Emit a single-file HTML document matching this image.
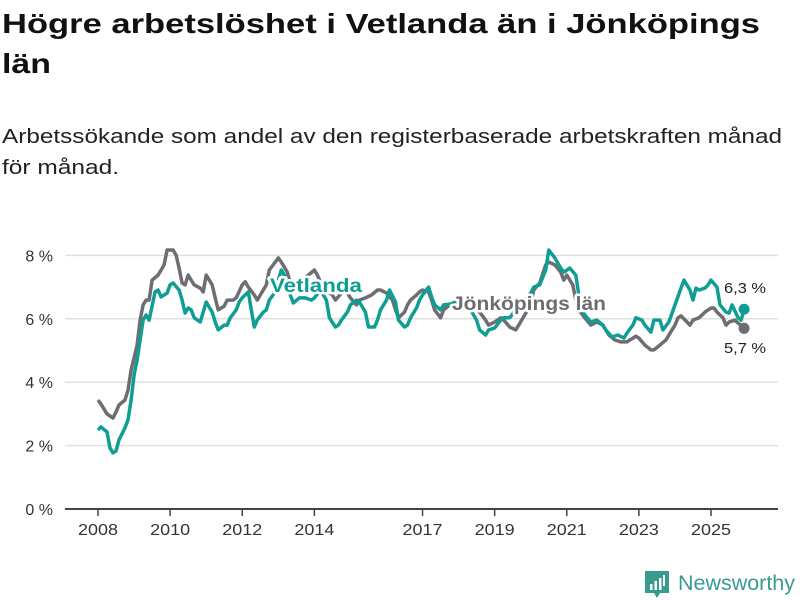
<!DOCTYPE html>
<html><head><meta charset="utf-8">
<style>
body{margin:0;background:#fff;width:800px;height:600px;overflow:hidden;font-family:"Liberation Sans","DejaVu Sans",sans-serif;}
svg{position:absolute;left:0;top:0;}
</style></head><body>
<svg id="chart" width="800" height="600" font-family="Liberation Sans, DejaVu Sans, sans-serif">
<g>
<text x="2" y="33" font-size="28" font-weight="bold" fill="#111" textLength="758" lengthAdjust="spacingAndGlyphs">Högre arbetslöshet i Vetlanda än i Jönköpings</text>
<text x="2" y="73" font-size="28" font-weight="bold" fill="#111" textLength="49" lengthAdjust="spacingAndGlyphs">län</text>
</g>
<g>
<text x="2" y="143" font-size="20" fill="#222" textLength="780" lengthAdjust="spacingAndGlyphs">Arbetssökande som andel av den registerbaserade arbetskraften månad</text>
<text x="2" y="174" font-size="20" fill="#222" textLength="117" lengthAdjust="spacingAndGlyphs">för månad.</text>
</g>
</svg>
<script>
const yTicks=[0,2,4,6,8];
const yTickLabels=["0 %","2 %","4 %","6 %","8 %"];
const xTickYears=[2008,2010,2012,2014,2017,2019,2021,2023,2025];
const lanMonths=[0,1,3,5,6,7,9,10,11,13,14,15,16,17,18,20,21,22,23,25,26,27,28,29,30,31,32,34,35,36,38,39,40,42,43,45,46,48,49,50,52,53,54,56,57,59,60,61,63,64,65,67,69,70,72,73,74,76,78,79,81,82,84,86,87,89,91,93,94,96,98,99,100,102,103,104,106,107,108,110,111,112,114,115,117,120,124,127,129,130,132,134,135,137,139,140,142,144,145,147,149,150,152,154,155,156,158,159,160,162,164,166,168,170,172,174,176,178,179,180,182,184,185,187,189,190,192,193,194,196,197,198,200,201,202,204,205,206,208,209,210,212,213,214,215];
const lanValues=[3.44,3.31,3.0,2.87,3.06,3.28,3.44,3.75,4.38,5.17,5.96,6.44,6.59,6.59,7.22,7.38,7.54,7.70,8.17,8.17,8.01,7.6,7.13,7.07,7.38,7.22,7.07,6.97,6.85,7.38,7.07,6.66,6.28,6.4,6.59,6.59,6.66,7.07,7.17,7.0,6.75,6.59,6.75,7.07,7.54,7.79,7.92,7.79,7.47,7.13,6.91,7.07,7.3,7.38,7.54,7.38,7.16,6.91,6.75,6.59,6.81,6.97,6.66,6.44,6.59,6.66,6.75,6.91,6.91,6.81,6.59,6.28,6.03,6.21,6.44,6.59,6.75,6.85,6.91,6.85,6.59,6.28,6.03,6.28,6.44,6.59,6.44,6.21,5.96,5.80,5.90,6.03,5.96,5.74,5.65,5.80,6.12,6.44,6.91,7.13,7.70,7.79,7.70,7.47,7.22,7.38,7.07,6.59,6.28,6.03,5.80,5.90,5.80,5.49,5.33,5.27,5.27,5.39,5.45,5.39,5.17,5.02,5.02,5.17,5.33,5.49,5.80,6.03,6.09,5.90,5.80,5.96,6.03,6.12,6.21,6.34,6.34,6.21,6.03,5.80,5.90,5.96,5.86,5.80,5.7];
const vetMonths=[0,1,3,4,5,6,7,9,10,11,12,13,15,16,17,19,20,21,23,24,25,27,28,29,30,31,32,34,35,36,38,39,40,42,43,44,46,47,48,50,51,52,53,55,56,57,59,60,61,63,64,65,67,69,71,72,74,76,77,79,80,81,83,84,86,87,89,90,92,93,94,96,97,99,100,102,103,104,106,107,108,110,111,112,114,115,120,124,126,127,129,130,132,134,135,137,139,140,142,144,145,147,149,150,152,154,155,157,159,160,162,164,166,168,169,171,173,175,176,178,179,181,182,184,185,187,188,190,192,194,195,197,198,199,200,202,203,204,206,207,209,210,211,213,214,215];
const vetValues=[2.49,2.59,2.43,1.92,1.77,1.83,2.18,2.56,2.81,3.44,4.23,4.70,5.96,6.12,5.96,6.85,6.91,6.69,6.81,7.07,7.13,6.91,6.59,6.18,6.34,6.28,6.03,5.90,6.21,6.53,6.21,5.90,5.65,5.80,5.80,6.03,6.28,6.53,6.66,6.85,6.28,5.74,5.96,6.21,6.28,6.59,6.85,7.22,7.54,7.22,6.75,6.5,6.66,6.66,6.59,6.66,6.91,6.59,6.03,5.74,5.80,5.96,6.21,6.44,6.59,6.53,6.21,5.74,5.74,5.96,6.28,6.59,6.91,6.53,5.96,5.74,5.80,6.03,6.34,6.59,6.75,7.0,6.69,6.44,6.28,6.44,6.5,6.28,5.96,5.65,5.49,5.65,5.71,5.96,6.03,6.03,6.28,6.44,6.59,6.81,7.0,7.07,7.54,8.17,7.92,7.60,7.47,7.60,7.38,6.75,6.12,5.90,5.96,5.80,5.65,5.43,5.49,5.39,5.55,5.80,6.03,5.96,5.80,5.58,5.96,5.96,5.65,5.90,6.44,6.97,7.22,6.91,6.59,6.97,6.91,6.97,7.07,7.22,7.0,6.44,6.21,6.18,6.44,6.03,5.96,6.3];

const NS='http://www.w3.org/2000/svg';
const svg=document.getElementById('chart');
const x0=98, pxPerYear=36.06, yBase=509, pxPerPct=31.7;
function xScale(year){return x0+(year-2008)*pxPerYear;}
function xMonth(m){return xScale(2008+m/12);}
function yScale(v){return yBase-v*pxPerPct;}
function mk(tag,attrs){const e=document.createElementNS(NS,tag);for(const k in attrs)e.setAttribute(k,attrs[k]);svg.appendChild(e);return e;}

yTicks.forEach((v,i)=>{
  if(v>0){
    const g=mk('line',{x1:65,x2:778,y1:yScale(v),y2:yScale(v),stroke:'#e0e0e0','stroke-width':1.5});
    
    
  }
  const t=mk('text',{x:53,y:yScale(v)+6,'text-anchor':'end','font-size':16,fill:'#333'});
  t.textContent=yTickLabels[i];
  
  
});
const ax=mk('line',{x1:65,x2:778,y1:yBase,y2:yBase,stroke:'#444','stroke-width':2});


xTickYears.forEach(yr=>{
  const tk=mk('line',{x1:xScale(yr),x2:xScale(yr),y1:yBase,y2:yBase+7,stroke:'#444','stroke-width':1.5});
  
  
  const t=mk('text',{x:xScale(yr)-20,y:535,'font-size':16,fill:'#333',textLength:40,lengthAdjust:'spacingAndGlyphs'});
  t.textContent=yr;
  
  
});
function series(months,vals,color,name){
  const d=months.map((m,i)=>(i?'L':'M')+xMonth(m).toFixed(1)+','+yScale(vals[i]).toFixed(1)).join('');
  const p=mk('path',{d:d,fill:'none',stroke:color,'stroke-width':3.5,'stroke-linejoin':'round'});
  
  
  const n=months.length-1;
  const c=mk('circle',{cx:xMonth(months[n]),cy:yScale(vals[n]),r:5.5,fill:color});
  
  
  return [xMonth(months[n]),yScale(vals[n]),vals[n]];
}
const lanEnd=series(lanMonths,lanValues,'#6e6d72','jonkopings-lan');
const vetEnd=series(vetMonths,vetValues,'#0e9e94','vetlanda');
function label(txt,x,y,color,name,bold,size,len){
  const t=mk('text',{x:x,y:y,'font-size':size,'font-weight':bold?'bold':'normal',fill:color,stroke:'#fff','stroke-width':bold?5:4,'paint-order':'stroke','stroke-linejoin':'round',textLength:len,lengthAdjust:'spacingAndGlyphs'});
  t.textContent=txt;
  
  
}
label('Vetlanda',270,292,'#0e9e94','vetlanda-series-label',true,19,92);
label('Jönköpings län',452,310,'#6e6d72','jonkopings-lan-series-label',true,19,154);
label(vetEnd[2].toFixed(1).replace('.',',')+' %',724,293,'#222','vetlanda-end-value',false,15,42);
label(lanEnd[2].toFixed(1).replace('.',',')+' %',724,353,'#222','jonkopings-lan-end-value',false,15,42);
</script>
<div style="position:absolute;left:645px;top:571px;">
<svg width="26" height="28" style="position:absolute;left:0;top:0"><path d="M0 0H24V22H15L12 27L9 22H0Z" fill="#3a9a92"/><rect x="5" y="13" width="2.5" height="6" fill="#fff"/><rect x="9.5" y="10" width="2.5" height="9" fill="#fff"/><rect x="14" y="7" width="2.5" height="12" fill="#fff"/><rect x="18" y="4" width="2" height="11" fill="#fff"/></svg>
<svg width="130" height="30" style="position:absolute;left:33px;top:-2px"><text x="0" y="21" font-size="21" fill="#3a9a92" font-family="Liberation Sans, sans-serif" textLength="117" lengthAdjust="spacingAndGlyphs">Newsworthy</text></svg>
</div>
</body></html>
